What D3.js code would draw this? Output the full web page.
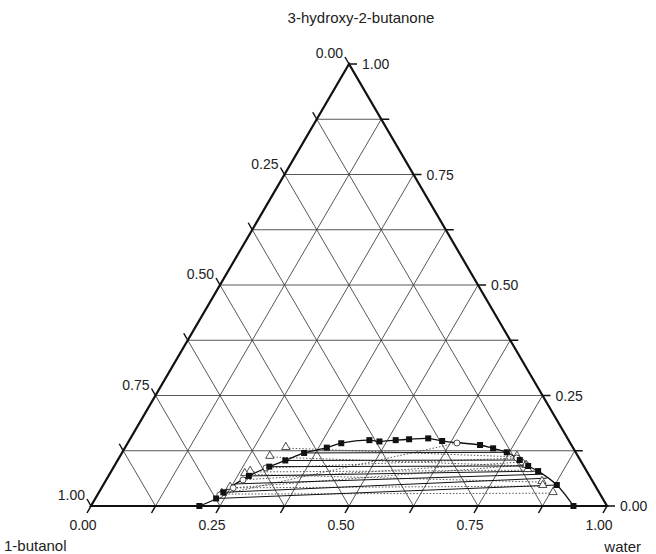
<!DOCTYPE html>
<html>
<head>
<meta charset="utf-8">
<script src="https://cdn.jsdelivr.net/npm/d3@7"></script>
<style>
body{margin:0;background:#fff;}
text{font-family:"Liberation Sans",Arial,sans-serif;fill:#222;}
</style>
</head>
<body>
<div id="draw"></div>
<script>
// ternary diagram: 1-butanol / water / 3-hydroxy-2-butanone
// every point is given as [water, ketone] mass fraction, butanol = 1 - water - ketone
var axisNames = ["3-hydroxy-2-butanone", "1-butanol", "water"];
var tickValues = [0, 0.25, 0.5, 0.75, 1];
var tickLabels = ["0.00", "0.25", "0.50", "0.75", "1.00"];
var gridSteps = [0.125, 0.25, 0.375, 0.5, 0.625, 0.75, 0.875];
var minorTicks = [0, 0.125, 0.25, 0.375, 0.5, 0.625, 0.75, 0.875, 1];

// experimental binodal curve (filled squares)
var binodal = [
  [0.210, 0.000], [0.234, 0.017], [0.241, 0.031], [0.272, 0.068], [0.301, 0.089],
  [0.325, 0.103], [0.353, 0.120], [0.391, 0.132], [0.414, 0.142], [0.465, 0.149],
  [0.486, 0.146], [0.516, 0.149], [0.541, 0.151], [0.577, 0.153], [0.607, 0.147],
  [0.685, 0.138], [0.714, 0.1305], [0.745, 0.1215], [0.779, 0.104], [0.802, 0.0905],
  [0.827, 0.079], [0.879, 0.0475], [0.935, 0.000]
];

// experimental tie lines (solid)
var tieLeft = [[0.234, 0.017], [0.241, 0.031], [0.256, 0.050], [0.272, 0.068], [0.301, 0.089], [0.325, 0.103], [0.353, 0.120]];
var tieRight = [[0.879, 0.0475], [0.852, 0.063], [0.840, 0.072], [0.827, 0.079], [0.802, 0.0905], [0.779, 0.104], [0.745, 0.1215]];

// model 1 tie lines (open triangles, dotted)
var triLeft = [[0.312, 0.131], [0.291, 0.111], [0.270, 0.077], [0.262, 0.072], [0.249, 0.041], [0.240, 0.027]];
var triRight = [[0.770, 0.111], [0.798, 0.0905], [0.806, 0.081], [0.847, 0.054], [0.853, 0.045], [0.881, 0.029]];

// model 2 tie lines (open circles, dotted)
var cirLeft = [[0.296, 0.086], [0.265, 0.059], [0.255, 0.041], [0.237, 0.025]];
var cirRight = [[0.771, 0.1086], [0.785, 0.0995], [0.797, 0.093], [0.638, 0.1425]];

window.onload = function () {
  var W = 656, H = 554;
  var svg = d3.select('#draw').append('svg').attr('width', W).attr('height', H);

  var xs = d3.scaleLinear().domain([0, 1]).range([91, 607]);
  var ys = d3.scaleLinear().domain([0, 1]).range([506, 64]);
  // [water, ketone] -> pixel
  function P(d) { return [xs(d[0] + d[1] / 2), ys(d[1])]; }
  function seg(a, b) { return 'M' + P(a).join(',') + 'L' + P(b).join(','); }

  // grid
  var g = svg.append('g').attr('stroke', '#3a3a3a').attr('stroke-width', 0.85).attr('fill', 'none');
  gridSteps.forEach(function (k) {
    g.append('path').attr('d', seg([0, k], [1 - k, k]));          // ketone = k
    g.append('path').attr('d', seg([k, 0], [k, 1 - k]));          // water = k
    g.append('path').attr('d', seg([1 - k, 0], [0, 1 - k]));      // butanol = k
  });

  // triangle frame
  svg.append('path')
    .attr('d', 'M' + P([0, 1]).join(',') + 'L' + P([0, 0]).join(',') + 'L' + P([1, 0]).join(',') + 'Z')
    .attr('fill', 'none').attr('stroke', '#111').attr('stroke-width', 2.2).attr('stroke-linejoin', 'miter');

  // ticks
  var tk = svg.append('g').attr('stroke', '#111').attr('stroke-width', 1.5);
  minorTicks.forEach(function (k) {
    var a = P([0, 1 - k]);   // left edge, butanol = k
    tk.append('line').attr('x1', a[0]).attr('y1', a[1]).attr('x2', a[0] - 4).attr('y2', a[1] - 7);
    var b = P([1 - k, k]);   // right edge, ketone = k
    tk.append('line').attr('x1', b[0]).attr('y1', b[1]).attr('x2', b[0] + 8).attr('y2', b[1]);
    var c = P([k, 0]);       // bottom edge, water = k
    tk.append('line').attr('x1', c[0]).attr('y1', c[1]).attr('x2', c[0] - 4).attr('y2', c[1] + 7);
  });

  // tick labels
  var lab = svg.append('g').style('font-size', '14px');
  tickValues.forEach(function (k, i) {
    var a = P([0, 1 - k]);
    lab.append('text').attr('x', a[0] - 6).attr('y', a[1] - 6).attr('text-anchor', 'end').text(tickLabels[i]);
    var b = P([1 - k, k]);
    lab.append('text').attr('x', b[0] + 13).attr('y', b[1] + 5).attr('text-anchor', 'start').text(tickLabels[i]);
    var c = P([k, 0]);
    lab.append('text').attr('x', c[0] - 8).attr('y', c[1] + 24).attr('text-anchor', 'middle').text(tickLabels[i]);
  });

  // axis names
  var nm = svg.append('g').style('font-size', '15px');
  nm.append('text').attr('x', 361).attr('y', 23).attr('text-anchor', 'middle').text(axisNames[0]);
  nm.append('text').attr('x', 4).attr('y', 551).attr('text-anchor', 'start').text(axisNames[1]);
  nm.append('text').attr('x', 641).attr('y', 552).attr('text-anchor', 'end').text(axisNames[2]);

  // model tie lines (dotted)
  var dl = svg.append('g').attr('stroke', '#444').attr('stroke-width', 0.9).attr('stroke-dasharray', '1.5,1.8').attr('fill', 'none');
  triLeft.forEach(function (d, i) { dl.append('path').attr('d', seg(d, triRight[i])); });
  cirLeft.forEach(function (d, i) { dl.append('path').attr('d', seg(d, cirRight[i])); });

  // experimental tie lines
  var sl = svg.append('g').attr('stroke', '#111').attr('stroke-width', 1).attr('fill', 'none');
  tieLeft.forEach(function (d, i) { sl.append('path').attr('d', seg(d, tieRight[i])); });

  // binodal curve
  var line = d3.line().x(function (d) { return P(d)[0]; }).y(function (d) { return P(d)[1]; }).curve(d3.curveCatmullRom);
  svg.append('path').attr('d', line(binodal)).attr('fill', 'none').attr('stroke', '#111').attr('stroke-width', 1.3);

  // markers
  var triSym = d3.symbol().type(d3.symbolTriangle).size(30);
  triLeft.concat(triRight).forEach(function (d) {
    var p = P(d);
    svg.append('path').attr('d', triSym()).attr('transform', 'translate(' + p[0] + ',' + (p[1] - 1) + ')')
      .attr('fill', '#fff').attr('stroke', '#222').attr('stroke-width', 0.8);
  });
  cirLeft.concat(cirRight).forEach(function (d) {
    var p = P(d);
    svg.append('circle').attr('cx', p[0]).attr('cy', p[1]).attr('r', 3)
      .attr('fill', '#fff').attr('stroke', '#222').attr('stroke-width', 0.8);
  });
  binodal.forEach(function (d) {
    var p = P(d);
    svg.append('rect').attr('x', p[0] - 3).attr('y', p[1] - 3).attr('width', 6).attr('height', 6).attr('fill', '#111');
  });
};
</script>
</body>
</html>
